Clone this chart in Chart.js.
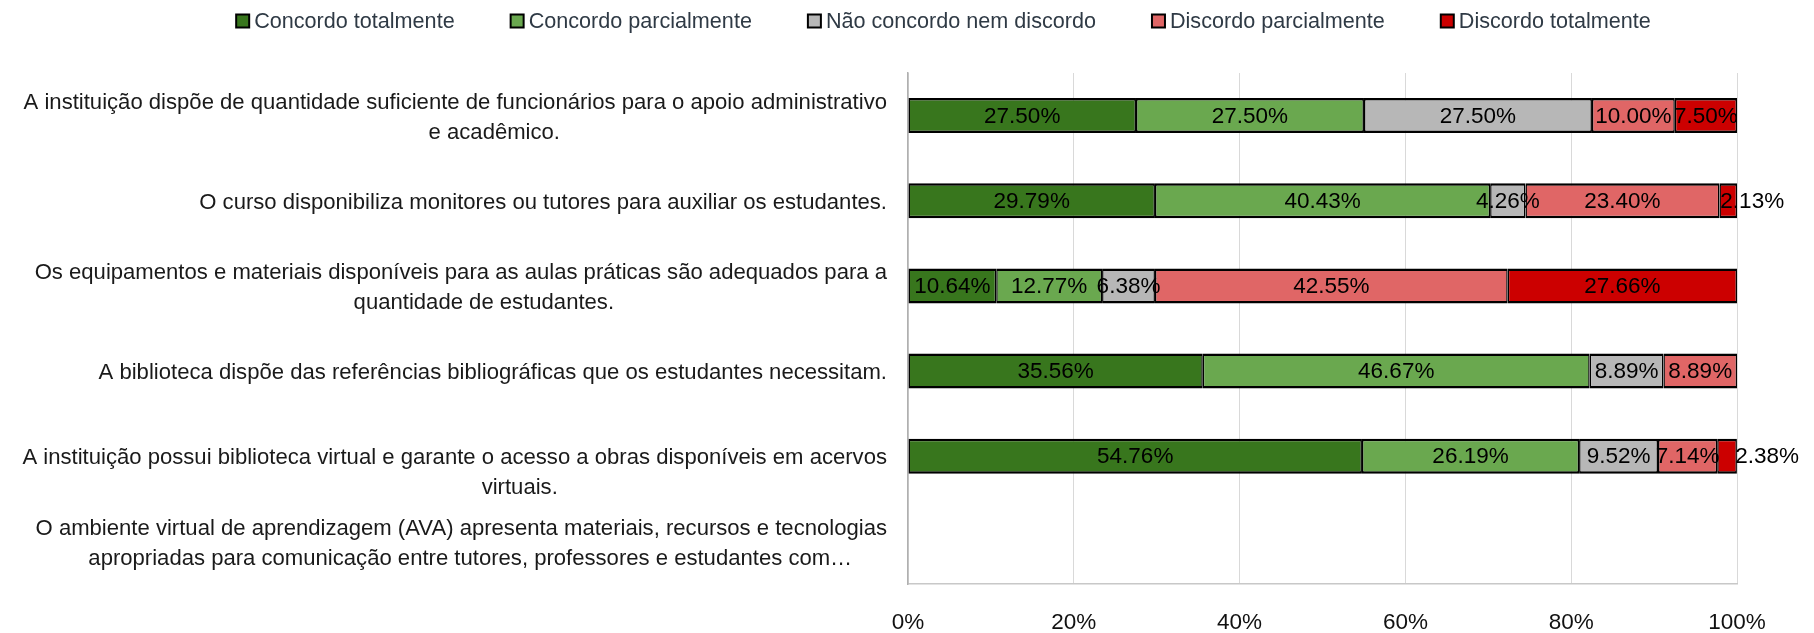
<!DOCTYPE html>
<html>
<head>
<meta charset="utf-8">
<script src="https://cdn.jsdelivr.net/npm/chart.js@4.4.1/dist/chart.umd.min.js"></script>
<style>
  html, body { margin: 0; padding: 0; background: #fff; }
</style>
</head>
<body>
<canvas id="chart" width="1814" height="633"></canvas>
<script>
// categories: wrapped lines as Excel shows them
const categories = [
    ['A instituição dispõe de quantidade suficiente de funcionários para o apoio administrativo', 'e acadêmico.'],
    ['O curso disponibiliza monitores ou tutores para auxiliar os estudantes.'],
    ['Os equipamentos e materiais disponíveis para as aulas práticas são adequados para a', 'quantidade de estudantes.'],
    ['A biblioteca dispõe das referências bibliográficas que os estudantes necessitam.'],
    ['A instituição possui biblioteca virtual e garante o acesso a obras disponíveis em acervos', 'virtuais.'],
    ['O ambiente virtual de aprendizagem (AVA) apresenta materiais, recursos e tecnologias', 'apropriadas para comunicação entre tutores, professores e estudantes com…']
];
const seriesNames = ['Concordo totalmente', 'Concordo parcialmente', 'Não concordo nem discordo', 'Discordo parcialmente', 'Discordo totalmente'];
const concordoTotalmente = [27.50, 29.79, 10.64, 35.56, 54.76, null];
const concordoParcialmente = [27.50, 40.43, 12.77, 46.67, 26.19, null];
const naoConcordoNemDiscordo = [27.50, 4.26, 6.38, 8.89, 9.52, null];
const discordoParcialmente = [10.00, 23.40, 42.55, 8.89, 7.14, null];
const discordoTotalmente = [7.50, 2.13, 27.66, null, 2.38, null];
const xTicks = [0, 20, 40, 60, 80, 100];

const colors = ['#38761d', '#6aa84f', '#b7b7b7', '#e06666', '#cc0000'];
const seriesValues = [concordoTotalmente, concordoParcialmente, naoConcordoNemDiscordo, discordoParcialmente, discordoTotalmente];

const FONT = "'Liberation Sans', Arial, sans-serif";
Chart.defaults.font.family = FONT;
Chart.defaults.font.size = 22.5;

// excel put the 5th label's first line on the bar centre, keep that
const labelShift = [0, 0, 0, 0, 0.5, 0];
// excel's second lines are not quite centred under the first
const secondLineDx = [39, 0, 23, 0, 65, 9];
const LINE_H = 30;
// the two thin red labels were moved right in the original
const valueNudge = {'4,1': 24, '4,4': 40};

const categoryLabels = {
    id: 'categoryLabels',
    afterDraw(chart) {
        const ctx = chart.ctx;
        const yScale = chart.scales.y;
        const right = chart.chartArea.left - 21;
        ctx.save();
        ctx.font = '22.1px ' + FONT;
        ctx.fillStyle = '#1a1a1a';
        ctx.textAlign = 'center';
        ctx.textBaseline = 'middle';
        categories.forEach((lines, i) => {
            const yc = yScale.getPixelForValue(i) + 2;
            const blockW = Math.max(...lines.map(l => ctx.measureText(l).width));
            const cx = right - blockW / 2;
            lines.forEach((line, j) => {
                const y = yc + (j - (lines.length - 1) / 2 + labelShift[i]) * LINE_H;
                ctx.fillText(line, cx + (j > 0 ? secondLineDx[i] : 0), y);
            });
        });
        ctx.restore();
    }
};

const valueLabels = {
    id: 'valueLabels',
    afterDatasetsDraw(chart) {
        const ctx = chart.ctx;
        ctx.save();
        ctx.font = '22.5px ' + FONT;
        ctx.fillStyle = '#000';
        ctx.textAlign = 'center';
        ctx.textBaseline = 'middle';
        chart.data.datasets.forEach((ds, di) => {
            chart.getDatasetMeta(di).data.forEach((bar, i) => {
                const v = ds.data[i];
                if (v === null || v === undefined) return;
                const p = bar.getCenterPoint();
                const dx = valueNudge[di + ',' + i] || 0;
                ctx.fillText(v.toFixed(2) + '%', p.x + dx, p.y + 1);
            });
        });
        ctx.restore();
    }
};

const topLegend = {
    id: 'topLegend',
    afterDraw(chart) {
        const ctx = chart.ctx;
        const box = 15, gap = 4, spacing = 55, yc = 21;
        ctx.save();
        ctx.font = '21.6px ' + FONT;
        ctx.textBaseline = 'middle';
        ctx.textAlign = 'left';
        const items = chart.data.datasets.map(ds => ({
            text: ds.label, color: ds.backgroundColor, w: ctx.measureText(ds.label).width
        }));
        const total = items.reduce((s, it) => s + box + gap + it.w, 0) + spacing * (items.length - 1);
        let x = 943 - total / 2;
        items.forEach(it => {
            ctx.fillStyle = '#000';
            ctx.fillRect(x, yc - box / 2, box, box);
            ctx.fillStyle = it.color;
            ctx.fillRect(x + 2, yc - box / 2 + 2, box - 4, box - 4);
            ctx.fillStyle = '#2f3a45';
            ctx.fillText(it.text, x + box + gap, yc + 1);
            x += box + gap + it.w + spacing;
        });
        ctx.restore();
    }
};

new Chart(document.getElementById('chart'), {
    type: 'bar',
    data: {
        labels: categories.map(c => c.join(' ')),
        datasets: seriesNames.map((name, i) => ({
            label: name,
            data: seriesValues[i],
            backgroundColor: colors[i],
            borderColor: '#000',
            borderWidth: {top: 2.5, bottom: 2.5, left: 1.5, right: 1.5},
            borderSkipped: false,
            barPercentage: 1,
            categoryPercentage: 0.41
        }))
    },
    options: {
        indexAxis: 'y',
        responsive: false,
        animation: false,
        devicePixelRatio: 1,
        layout: {padding: {top: 73, right: 77, bottom: 0, left: 0}},
        plugins: {
            legend: {display: false},
            tooltip: {enabled: false}
        },
        scales: {
            x: {
                type: 'linear',
                stacked: true,
                min: 0,
                max: 100,
                afterBuildTicks: scale => { scale.ticks = xTicks.map(v => ({value: v})); },
                afterFit: scale => { scale.height = 49; },
                ticks: {
                    color: '#111',
                    padding: 25,
                    callback: v => v + '%'
                },
                grid: {color: '#d9d9d9', lineWidth: 1, drawTicks: false},
                border: {display: true, color: '#c8c8c8', width: 1.5}
            },
            y: {
                type: 'category',
                stacked: true,
                afterFit: scale => { scale.width = 908; },
                ticks: {display: false},
                grid: {display: false},
                border: {display: true, color: '#b0b0b0', width: 1.5}
            }
        }
    },
    plugins: [categoryLabels, valueLabels, topLegend]
});
</script>
</body>
</html>
